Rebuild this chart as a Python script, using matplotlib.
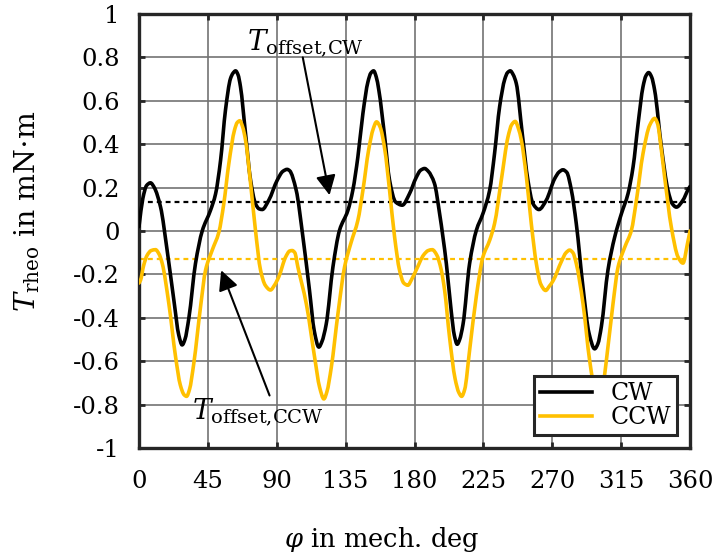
import matplotlib
matplotlib.use("Agg")
import matplotlib.pyplot as plt
from matplotlib.path import Path
from matplotlib.patches import PathPatch
from matplotlib.lines import Line2D

plt.rcParams["font.family"] = ["DejaVu Serif"]
plt.rcParams["mathtext.fontset"] = "dejavuserif"

# Rotor angle (mech. deg) and reluctance torque samples, CW rotation
phi_cw = [0, 2.5, 5, 7.5, 10, 14.1, 18.4, 22.8, 26, 28.2, 30, 32.6, 36.9, 41.3,
          46.7, 50, 53.3, 56.5, 59.8, 61.5, 63.1, 64.7, 66.3, 69.6, 72.9, 76.1,
          78.5, 80.5, 84.8, 90.3, 94, 96.8, 98.4, 102.7, 107.1, 111.4, 114.5,
          117.5, 119.5, 122.3, 126.7, 131, 136.5, 139.7, 143, 146.3, 149.6,
          151.5, 153.3, 155, 156.7, 160.5, 163.7, 167.6, 172, 176.8, 181, 184,
          186.6, 189, 193, 196.4, 200.8, 204, 206, 207.9, 209.5, 211.7, 216,
          220.4, 224.7, 229.1, 232.3, 235.6, 239, 240.8, 242.6, 244.5, 246.5,
          250.4, 254.1, 257.4, 261.3, 266.1, 271.5, 274.5, 277, 279.5, 282.5,
          285.7, 290.1, 294, 297.7, 299.8, 302.1, 306.4, 310.8, 315.2, 319.5,
          322.8, 326.1, 329.3, 331.2, 333, 334.9, 336.9, 341.3, 345.6, 348.5,
          351.1, 355.4, 358.7, 360]
t_cw = [0.02, 0.15, 0.21, 0.222, 0.2, 0.11, -0.09, -0.32, -0.48, -0.525, -0.5,
        -0.40, -0.15, 0.0, 0.095, 0.17, 0.326, 0.557, 0.703, 0.728, 0.738,
        0.72, 0.665, 0.449, 0.234, 0.126, 0.102, 0.099, 0.142, 0.234, 0.275,
        0.284, 0.278, 0.188, -0.028, -0.274, -0.46, -0.535, -0.51, -0.43,
        -0.166, 0.003, 0.095, 0.188, 0.341, 0.542, 0.688, 0.728, 0.738, 0.71,
        0.649, 0.434, 0.234, 0.134, 0.119, 0.173, 0.245, 0.28, 0.288, 0.275,
        0.22, 0.08, -0.15, -0.37, -0.48, -0.522, -0.5, -0.43, -0.15, 0.003,
        0.08, 0.188, 0.357, 0.572, 0.7, 0.73, 0.738, 0.72, 0.68, 0.449, 0.234,
        0.126, 0.099, 0.142, 0.24, 0.272, 0.282, 0.27, 0.188, 0.034, -0.26,
        -0.47, -0.543, -0.52, -0.44, -0.18, -0.028, 0.08, 0.172, 0.295, 0.495,
        0.665, 0.715, 0.73, 0.71, 0.649, 0.388, 0.188, 0.125, 0.11, 0.142,
        0.19, 0.205]

# CCW rotation
phi_ccw = [0, 1, 3, 5.3, 8, 10.8, 13, 15.2, 19.5, 23.9, 27, 29.5, 31.1, 33,
           35.8, 40.2, 43.5, 47.8, 52.2, 55.4, 58.7, 62.4, 64.2, 65.9, 67.7,
           69.6, 72.9, 76.1, 79.4, 82.5, 85.9, 88.5, 91.4, 95.8, 98.5, 100.1,
           101.8, 103.8, 109.3, 114.7, 118, 120.8, 122.8, 125.6, 130, 134.3,
           138.7, 143, 146.3, 150, 153, 155.2, 157.5, 160.5, 163.7, 167, 170.2,
           173, 175.7, 178, 181.1, 186, 189, 191.6, 194.5, 197.5, 199.7, 202.9,
           206.5, 209, 210.8, 212.8, 216, 220.4, 224.7, 229.1, 232.3, 236.7,
           241.1, 243.5, 245.8, 248, 249.8, 253.1, 256.3, 259.6, 262.5, 265.7,
           268, 270.5, 276, 279, 281.4, 283.5, 285.7, 290.1, 294.5, 298, 300.5,
           303, 305.3, 309.7, 313, 317.4, 321.7, 325, 329.3, 333.7, 336.9, 339,
           340.2, 343.4, 347.8, 352.2, 355.4, 358.3, 360]
t_ccw = [-0.24, -0.227, -0.16, -0.112, -0.09, -0.086, -0.105, -0.15, -0.335,
         -0.58, -0.71, -0.755, -0.762, -0.73, -0.61, -0.35, -0.18, -0.089,
         -0.005, 0.126, 0.311, 0.465, 0.5, 0.508, 0.48, 0.419, 0.219, 0.003,
         -0.18, -0.25, -0.272, -0.25, -0.21, -0.12, -0.092, -0.09, -0.1,
         -0.166, -0.335, -0.58, -0.72, -0.774, -0.74, -0.63, -0.38, -0.166,
         -0.05, 0.049, 0.188, 0.372, 0.47, 0.503, 0.48, 0.38, 0.188, -0.028,
         -0.18, -0.24, -0.25, -0.225, -0.18, -0.11, -0.09, -0.086, -0.11,
         -0.18, -0.274, -0.49, -0.68, -0.745, -0.762, -0.73, -0.55, -0.30,
         -0.12, -0.043, 0.034, 0.234, 0.434, 0.49, 0.505, 0.47, 0.419, 0.25,
         0.034, -0.15, -0.245, -0.274, -0.255, -0.23, -0.14, -0.1, -0.088,
         -0.1, -0.15, -0.335, -0.6, -0.74, -0.77, -0.72, -0.6, -0.335, -0.166,
         -0.074, 0.003, 0.142, 0.357, 0.488, 0.519, 0.49, 0.434, 0.25, 0.018,
         -0.12, -0.148, -0.06, 0.0]

offset_cw = 0.135
offset_ccw = -0.129

x_ticks = [0, 45, 90, 135, 180, 225, 270, 315, 360]
y_ticks = [-1, -0.8, -0.6, -0.4, -0.2, 0, 0.2, 0.4, 0.6, 0.8, 1]
y_tick_labels = ["-1", "-0.8", "-0.6", "-0.4", "-0.2", "0", "0.2", "0.4",
                 "0.6", "0.8", "1"]

BLACK = "#000000"
GOLD = "#FFC000"


def smooth_path(xs, ys):
    """Cubic Bezier path through the samples with shape-preserving tangents."""
    n = len(xs)
    sec = [(ys[i + 1] - ys[i]) / (xs[i + 1] - xs[i]) for i in range(n - 1)]
    tan = [sec[0]]
    for i in range(1, n - 1):
        if sec[i - 1] * sec[i] <= 0:
            tan.append(0.0)
        else:
            h0 = xs[i] - xs[i - 1]
            h1 = xs[i + 1] - xs[i]
            w1, w2 = 2 * h1 + h0, h1 + 2 * h0
            tan.append((w1 + w2) / (w1 / sec[i - 1] + w2 / sec[i]))
    tan.append(sec[-1])
    verts = [(xs[0], ys[0])]
    codes = [Path.MOVETO]
    for i in range(n - 1):
        h = (xs[i + 1] - xs[i]) / 3.0
        verts += [(xs[i] + h, ys[i] + tan[i] * h),
                  (xs[i + 1] - h, ys[i + 1] - tan[i + 1] * h),
                  (xs[i + 1], ys[i + 1])]
        codes += [Path.CURVE4] * 3
    return Path(verts, codes)


fig = plt.figure(figsize=(7.22, 5.53), dpi=100)
ax = fig.add_axes([139 / 722, 1 - 448 / 553, (690 - 139) / 722, (448 - 14) / 553])

ax.axhline(offset_cw, color=BLACK, lw=1.6, ls=(0, (2.2, 1.8)), zorder=2)
ax.axhline(offset_ccw, color=GOLD, lw=1.6, ls=(0, (2.2, 1.8)), zorder=2)

for xs, ys, col in ((phi_cw, t_cw, BLACK), (phi_ccw, t_ccw, GOLD)):
    ax.add_patch(PathPatch(smooth_path(xs, ys), facecolor="none",
                           edgecolor=col, lw=2.6, capstyle="round",
                           joinstyle="round", zorder=3))

ax.set_xlim(0, 360)
ax.set_ylim(-1, 1)
ax.set_xticks(x_ticks)
ax.set_yticks(y_ticks)
ax.set_yticklabels(y_tick_labels)
ax.grid(True, color="#737373", lw=1.2)
ax.set_axisbelow(True)

ax.tick_params(axis="both", which="major", direction="in", length=4,
               width=2, color="#262626", top=True, right=True,
               labelsize=17.5)
ax.tick_params(axis="y", pad=14)
ax.tick_params(axis="x", pad=16)
for s in ax.spines.values():
    s.set_linewidth(2.4)
    s.set_color("#262626")

ax.set_xlabel(r"$\varphi$ in mech. deg", fontsize=18.5)
ax.xaxis.set_label_coords(0.44, -0.178)
ax.set_ylabel(r"$T_{\mathrm{rheo}}$ in mN$\cdot$m", fontsize=20.5)
ax.yaxis.set_label_coords(-0.176, 0.545)

arrow = dict(arrowstyle="-|>,head_length=0.4,head_width=0.2",
             color=BLACK, lw=1.5, mutation_scale=30, shrinkA=0, shrinkB=0)
ax.annotate("", xy=(124.5, 0.165), xytext=(107, 0.80), arrowprops=arrow,
            zorder=5)
ax.text(108.5, 0.865, r"$T_{\mathrm{offset{,}CW}}$", fontsize=20,
        ha="center", va="center", zorder=5)
ax.annotate("", xy=(53.7, -0.181), xytext=(85.3, -0.758), arrowprops=arrow,
            zorder=5)
ax.text(77.5, -0.835, r"$T_{\mathrm{offset{,}CCW}}$", fontsize=20,
        ha="center", va="center", zorder=5)

handles = [Line2D([], [], color=BLACK, lw=2.6), Line2D([], [], color=GOLD, lw=2.6)]
leg = ax.legend(handles, ["CW", "CCW"], loc="lower right", fontsize=17,
                frameon=True, fancybox=False, framealpha=1,
                edgecolor="#262626", handlelength=2.2, borderpad=0.25,
                labelspacing=0.05, handletextpad=0.8, borderaxespad=0.55)
leg.get_frame().set_linewidth(2.2)
leg.set_zorder(10)

fig.savefig("out.png", dpi=100)
